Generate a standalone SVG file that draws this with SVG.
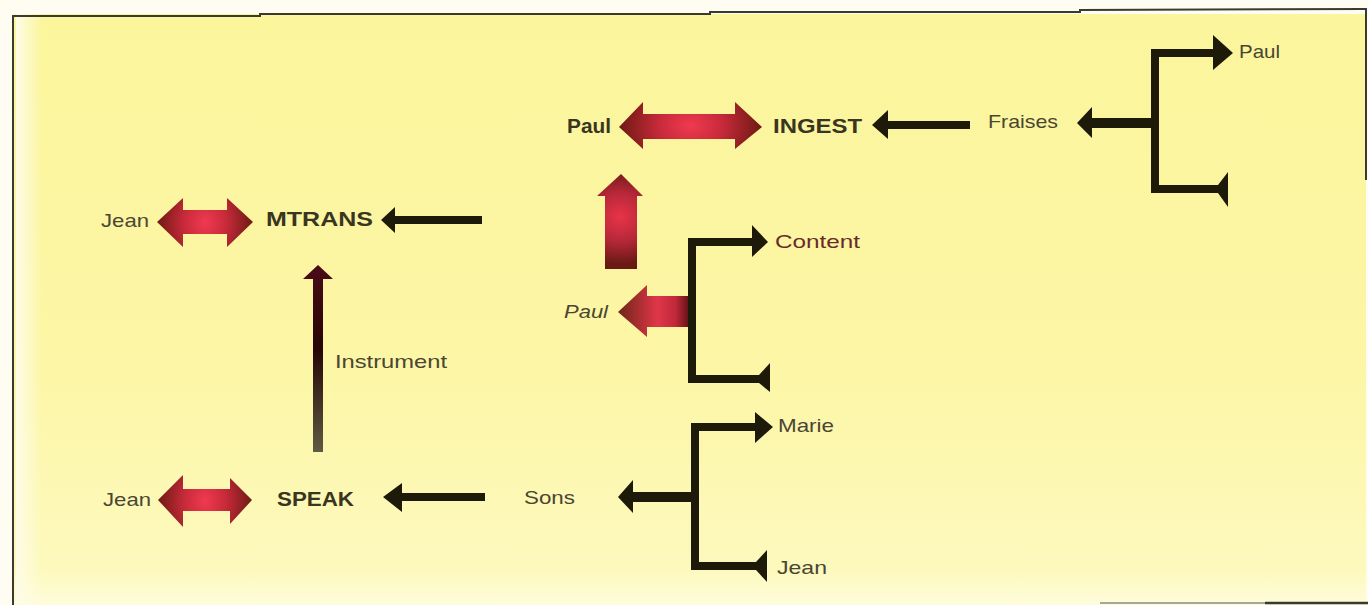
<svg xmlns="http://www.w3.org/2000/svg" width="1368" height="605" viewBox="0 0 1368 605">
  <defs>
    <linearGradient id="paper" x1="0" y1="0" x2="0" y2="1">
      <stop offset="0" stop-color="#fbf59c"/>
      <stop offset="0.6" stop-color="#fcf6a6"/>
      <stop offset="0.94" stop-color="#fdf9bd"/>
      <stop offset="1" stop-color="#fefcdc"/>
    </linearGradient>
    <linearGradient id="edgeL" x1="0" y1="0" x2="1" y2="0">
      <stop offset="0" stop-color="#fefce6" stop-opacity="1"/>
      <stop offset="1" stop-color="#fefce6" stop-opacity="0"/>
    </linearGradient>
    <radialGradient id="redH" cx="0.5" cy="0.5" r="0.5" gradientTransform="translate(0.5 0.5) scale(1 2.2) translate(-0.5 -0.5)">
      <stop offset="0" stop-color="#f03a50"/>
      <stop offset="0.45" stop-color="#c72a3a"/>
      <stop offset="1" stop-color="#6e1a14"/>
    </radialGradient>
    <radialGradient id="redV" cx="0.5" cy="0.45" r="0.5" gradientTransform="translate(0.5 0.45) scale(2.2 1) translate(-0.5 -0.45)">
      <stop offset="0" stop-color="#e83447"/>
      <stop offset="0.5" stop-color="#b8283a"/>
      <stop offset="1" stop-color="#6a1a14"/>
    </radialGradient>
    <linearGradient id="redL" x1="0" y1="0" x2="1" y2="0">
      <stop offset="0" stop-color="#6e2616"/>
      <stop offset="0.55" stop-color="#e0364a"/>
      <stop offset="0.8" stop-color="#c0283a"/>
      <stop offset="1" stop-color="#5a1010"/>
    </linearGradient>
    <linearGradient id="instr" x1="0" y1="0" x2="0" y2="1">
      <stop offset="0" stop-color="#4a0c18"/>
      <stop offset="0.45" stop-color="#260606"/>
      <stop offset="1" stop-color="#5e5a44"/>
    </linearGradient>
    <style>
      .lbl { font-family: "Liberation Sans", Arial, sans-serif; font-size: 19px; fill: #4a4632; }
      .kw { font-family: "Liberation Sans", Arial, sans-serif; font-size: 20px; font-weight: bold; fill: #3a3520; }
      .blk { fill: #1e1a0a; }
      .frame { stroke: #3a3a30; stroke-width: 2; fill: none; }
    </style>
  </defs>

  <!-- paper -->
  <rect x="0" y="0" width="1368" height="605" fill="#fffdf2"/>
  <rect x="14" y="14" width="1352" height="591" fill="url(#paper)"/>
  <rect x="16" y="14" width="26" height="591" fill="url(#edgeL)"/>

  <!-- frame -->
  <g id="frame">
    <line class="frame" x1="13" y1="15" x2="13" y2="605"/>
    <polyline class="frame" points="12,16 260,16 260,14 710,14 710,12 1080,12 1080,10 1366,9"/>
    <line class="frame" x1="1366" y1="8" x2="1366" y2="180"/>
    <line x1="1100" y1="603" x2="1368" y2="603" stroke="#8a8a7a" stroke-width="1.5"/>
    <line x1="1265" y1="603" x2="1368" y2="603" stroke="#3a3a30" stroke-width="2.5"/>
  </g>

  <!-- MTRANS act -->
  <g id="mtrans">
    <text class="lbl" x="101" y="227" textLength="48" lengthAdjust="spacingAndGlyphs">Jean</text>
    <path d="M157,222 L183,198 L183,210 L227,210 L227,198 L253,222 L227,247 L227,234 L183,234 L183,247 Z" fill="url(#redH)"/>
    <text class="kw" x="266" y="226" textLength="107" lengthAdjust="spacingAndGlyphs">MTRANS</text>
  </g>

  <!-- SPEAK act -->
  <g id="speak">
    <text class="lbl" x="103" y="506" textLength="48" lengthAdjust="spacingAndGlyphs">Jean</text>
    <path d="M158,500 L183,475 L183,489 L230,489 L230,478 L252,500 L230,524 L230,511 L183,511 L183,527 Z" fill="url(#redH)"/>
    <text class="kw" x="277" y="506" textLength="77" lengthAdjust="spacingAndGlyphs">SPEAK</text>
    <text class="lbl" x="524" y="504" textLength="51" lengthAdjust="spacingAndGlyphs">Sons</text>
  </g>

  <!-- INGEST act -->
  <g id="ingest">
    <text class="kw" x="567" y="133" font-size="19" textLength="44" lengthAdjust="spacingAndGlyphs">Paul</text>
    <path d="M619,127 L643,102 L643,114 L735,114 L735,102 L762,127 L735,149 L735,139 L643,139 L643,149 Z" fill="url(#redH)"/>
    <text class="kw" x="773" y="133" textLength="89" lengthAdjust="spacingAndGlyphs">INGEST</text>
    <text class="lbl" x="988" y="128" textLength="70" lengthAdjust="spacingAndGlyphs">Fraises</text>
    <text class="lbl" x="1239" y="58" font-size="16" textLength="41" lengthAdjust="spacingAndGlyphs">Paul</text>
  </g>

  <!-- Content state -->
  <g id="content">
    <text class="lbl" x="564" y="318" font-style="italic" textLength="44" lengthAdjust="spacingAndGlyphs">Paul</text>
    <text class="lbl" x="775" y="248" style="fill:#6a2a2a" textLength="85" lengthAdjust="spacingAndGlyphs">Content</text>
  </g>

  <!-- recipients -->
  <g id="recipients">
    <text class="lbl" x="778" y="432" font-size="18" textLength="56" lengthAdjust="spacingAndGlyphs">Marie</text>
    <text class="lbl" x="777" y="574" font-size="18" textLength="50" lengthAdjust="spacingAndGlyphs">Jean</text>
  </g>

  <!-- instrument label -->
  <g id="instrument">
    <text class="lbl" x="335" y="368" textLength="112" lengthAdjust="spacingAndGlyphs">Instrument</text>
  </g>

  <g id="connectors">
    <!-- into MTRANS -->
    <path class="blk" d="M381,220 L395,207 L395,216 L482,216 L482,224 L395,224 L395,233 Z"/>
    <!-- into INGEST -->
    <path class="blk" d="M872,125 L888,110 L888,121 L970,121 L970,129 L888,129 L888,139 Z"/>
    <!-- into SPEAK -->
    <path class="blk" d="M383,497 L402,483 L402,493 L485,493 L485,501 L402,501 L402,512 Z"/>

    <!-- instrument: SPEAK -> MTRANS -->
    <path d="M318,265 L333,279 L323,279 L323,452 L313,452 L313,279 L303,279 Z" fill="url(#instr)"/>

    <!-- result: Content -> INGEST -->
    <path d="M621,174 L643,196 L637,196 L637,269 L605,269 L605,196 L597,196 Z" fill="url(#redV)"/>
    <path d="M618,312 L647,285 L647,296 L690,296 L690,327 L647,327 L647,337 Z" fill="url(#redL)"/>

    <!-- Fraises bracket -->
    <path class="blk" d="M1077,123 L1092,107 L1092,118 L1151,118 L1151,49 L1213,49 L1213,35 L1233,53 L1213,70 L1213,57 L1159,57 L1159,185 L1218,185 L1228,172 L1228,207 L1218,193 L1151,193 L1151,128 L1092,128 L1092,138 Z"/>

    <!-- Content bracket -->
    <path class="blk" d="M688,238 L752,238 L752,225 L768,242 L752,257 L752,246 L696,246 L696,375 L759,375 L770,363 L770,392 L759,383 L688,383 Z"/>

    <!-- Sons bracket -->
    <path class="blk" d="M618,497 L633,480 L633,492 L691,492 L691,423 L755,423 L755,412 L773,427 L755,443 L755,431 L699,431 L699,562 L756,562 L767,550 L767,582 L756,570 L691,570 L691,502 L633,502 L633,513 Z"/>
  </g>
</svg>
